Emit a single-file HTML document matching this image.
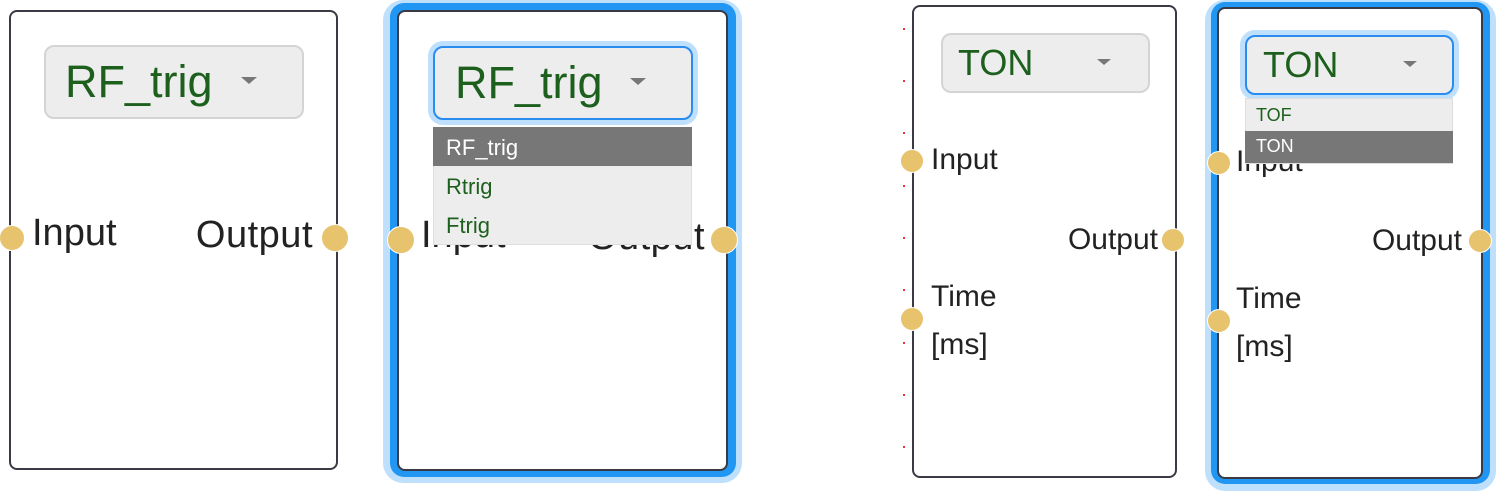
<!DOCTYPE html>
<html><head><meta charset="utf-8"><style>
*{margin:0;padding:0;box-sizing:border-box}
body{width:1502px;height:492px;background:#fff;position:relative;overflow:hidden;font-family:"Liberation Sans",sans-serif}
div{position:absolute}
.box{border:2px solid #3a3a44;border-radius:8px;background:#fff}
.sel{background:#ededed;border:2px solid #d4d4d4;border-radius:10px}
.selA{background:#ededed;border:2px solid #2b8cf0;border-radius:10px;box-shadow:0 0 0 5px #bfe0fc}
.g{color:#1d5f1d;line-height:1;white-space:nowrap}
.t{color:#222;line-height:1;white-space:nowrap}
.arr{width:0;height:0;border-left:8px solid transparent;border-right:8px solid transparent;border-top:7px solid #777}
.dot{background:#e8c36e;border:1px solid #fff;border-radius:50%}
.glow{background:#bfe0fc}
.blue{background:#2196f3}
.r{width:2px;height:2px;background:#e33}
</style></head><body>

<!-- Panel 1 -->
<div class="box" style="left:9px;top:10px;width:329px;height:460px"></div>
<div class="sel" style="left:44px;top:45px;width:260px;height:74px"></div>
<div class="g" style="left:65px;top:59px;font-size:45px">RF_trig</div>
<div class="arr" style="left:241px;top:77px"></div>
<div class="t" style="left:32px;top:214px;font-size:38px">Input</div>
<div class="t" style="left:190px;top:216px;font-size:38px;width:123px;text-align:right;letter-spacing:0.5px">Output</div>
<div class="dot" style="left:-1px;top:225px;width:26px;height:26px"></div>
<div class="dot" style="left:321px;top:224px;width:28px;height:28px"></div>

<!-- Panel 2 -->
<div class="glow" style="left:383px;top:0;width:359px;height:483px;border-radius:20px"></div>
<div class="blue" style="left:390px;top:3px;width:346px;height:474px;border-radius:14px"></div>
<div class="box" style="left:397px;top:10px;width:331px;height:461px"></div>
<div class="t" style="left:421px;top:216px;font-size:38px">Input</div>
<div class="t" style="left:582px;top:218px;font-size:38px;width:123px;text-align:right;letter-spacing:0.5px">Output</div>
<div class="selA" style="left:433px;top:46px;width:260px;height:74px"></div>
<div class="g" style="left:455px;top:60px;font-size:45px">RF_trig</div>
<div class="arr" style="left:630px;top:78px"></div>
<div style="left:433px;top:127px;width:259px;height:118px;background:#ededed;border:1px solid #ddd"></div>
<div style="left:433px;top:127px;width:259px;height:39px;background:#777"></div>
<div class="t" style="left:446px;top:137px;font-size:22px;color:#fff">RF_trig</div>
<div class="g" style="left:446px;top:176px;font-size:22px">Rtrig</div>
<div class="g" style="left:446px;top:215px;font-size:22px">Ftrig</div>
<div class="dot" style="left:387px;top:226px;width:28px;height:28px"></div>
<div class="dot" style="left:710px;top:226px;width:28px;height:28px"></div>

<!-- Panel 3 -->
<div class="r" style="left:903px;top:28px"></div>
<div class="r" style="left:903px;top:80px"></div>
<div class="r" style="left:903px;top:132px"></div>
<div class="r" style="left:903px;top:185px"></div>
<div class="r" style="left:903px;top:237px"></div>
<div class="r" style="left:903px;top:289px"></div>
<div class="r" style="left:903px;top:342px"></div>
<div class="r" style="left:903px;top:394px"></div>
<div class="r" style="left:903px;top:446px"></div>
<div class="box" style="left:912px;top:5px;width:265px;height:473px"></div>
<div class="sel" style="left:941px;top:33px;width:209px;height:60px"></div>
<div class="g" style="left:958px;top:45px;font-size:36px">TON</div>
<div class="arr" style="left:1097px;top:59px;border-left-width:7px;border-right-width:7px;border-top-width:6px"></div>
<div class="t" style="left:931px;top:145px;font-size:30px">Input</div>
<div class="t" style="left:1038px;top:225px;font-size:30px;width:120px;text-align:right">Output</div>
<div class="t" style="left:931px;top:282px;font-size:30px">Time</div>
<div class="t" style="left:931px;top:330px;font-size:30px">[ms]</div>
<div class="dot" style="left:900px;top:149px;width:24px;height:24px"></div>
<div class="dot" style="left:1161px;top:228px;width:24px;height:24px"></div>
<div class="dot" style="left:900px;top:307px;width:24px;height:24px"></div>

<!-- Panel 4 -->
<div class="glow" style="left:1205px;top:0;width:291px;height:491px;border-radius:20px"></div>
<div class="blue" style="left:1211px;top:2px;width:279px;height:482px;border-radius:14px"></div>
<div class="box" style="left:1217px;top:7px;width:266px;height:472px"></div>
<div class="t" style="left:1236px;top:147px;font-size:30px">Input</div>
<div class="t" style="left:1342px;top:226px;font-size:30px;width:120px;text-align:right">Output</div>
<div class="t" style="left:1236px;top:284px;font-size:30px">Time</div>
<div class="t" style="left:1236px;top:332px;font-size:30px">[ms]</div>
<div class="selA" style="left:1245px;top:35px;width:209px;height:60px"></div>
<div class="g" style="left:1263px;top:47px;font-size:36px">TON</div>
<div class="arr" style="left:1403px;top:61px;border-left-width:7px;border-right-width:7px;border-top-width:6px"></div>
<div style="left:1245px;top:98px;width:208px;height:66px;background:#ededed;border:1px solid #ddd"></div>
<div style="left:1245px;top:131px;width:208px;height:32px;background:#777"></div>
<div class="g" style="left:1256px;top:106px;font-size:18px">TOF</div>
<div class="t" style="left:1256px;top:137px;font-size:18px;color:#fff">TON</div>
<div class="dot" style="left:1207px;top:151px;width:24px;height:24px"></div>
<div class="dot" style="left:1468px;top:229px;width:24px;height:24px"></div>
<div class="dot" style="left:1207px;top:309px;width:24px;height:24px"></div>

</body></html>
